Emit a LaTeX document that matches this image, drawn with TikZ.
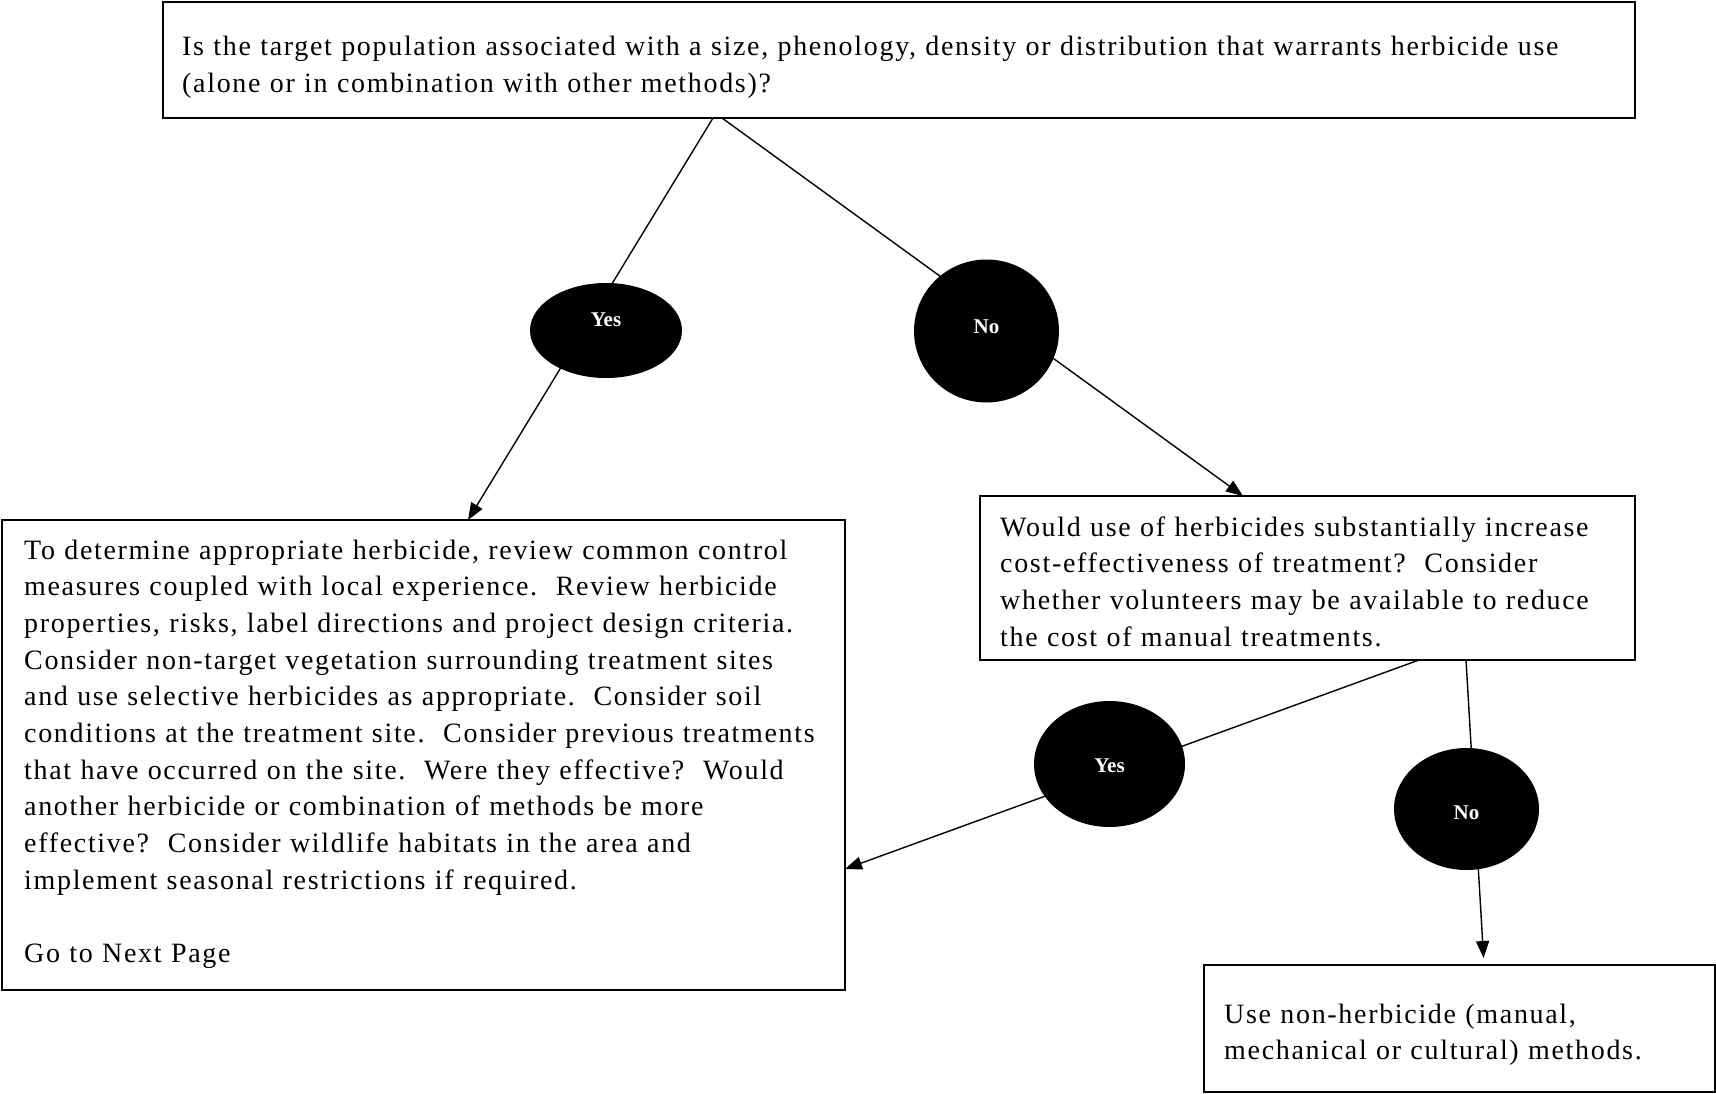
\documentclass[tikz,border=0pt]{standalone}
\usepackage{fontspec}
\setmainfont{Liberation Serif}
% the box texts are set slightly tracked
\newfontfamily\trackedserif{Liberation Serif}[LetterSpace=6]
\usetikzlibrary{arrows.meta,shapes.geometric}
\begin{document}
\begin{tikzpicture}[x=1pt,y=-1pt,
  box/.style={draw, line width=1.5pt, inner sep=0pt, outer sep=0pt, anchor=north west},
  body/.style={anchor=base west, inner sep=0pt, text width=#1, align=left,
    font=\trackedserif\fontsize{28}{36.7}\selectfont},
  answer/.style={ellipse, fill=black, inner sep=0pt, outer sep=0pt},
  answertext/.style={text=white, inner sep=0pt, font=\fontsize{21}{21}\selectfont\bfseries},
  flow/.style={line width=1.4pt, -{Triangle[length=17pt,width=13pt]}},
  ]
\useasboundingbox (0,0) rectangle (1716,1094);

% question and outcome boxes
\node[box, minimum width=1472pt, minimum height=116pt] (top) at (163,2) {};
\node[box, minimum width=843pt, minimum height=470pt] (left) at (2,520) {};
\node[box, minimum width=655pt, minimum height=164pt] (q2) at (980,496) {};
\node[box, minimum width=511pt, minimum height=127pt] (use) at (1204,965) {};

\node[body=1450pt] (topText) at (182,56) {Is the target population associated with a size, phenology, density or distribution that warrants herbicide use\\(alone or in combination with other methods)?};

\node[body=818pt] (leftText) at (24,559) {To determine appropriate herbicide, review common control\\
measures coupled with local experience.\ \ Review herbicide\\
properties, risks, label directions and project design criteria.\\
Consider non-target vegetation surrounding treatment sites\\
and use selective herbicides as appropriate.\ \ Consider soil\\
conditions at the treatment site.\ \ Consider previous treatments\\
that have occurred on the site.\ \ Were they effective?\ \ Would\\
another herbicide or combination of methods be more\\
effective?\ \ Consider wildlife habitats in the area and\\
implement seasonal restrictions if required.\\[36.7pt]
Go to Next Page};

\node[body=632pt] (q2Text) at (1000,536) {Would use of herbicides substantially increase\\
cost-effectiveness of treatment?\ \ Consider\\
whether volunteers may be available to reduce\\
the cost of manual treatments.};

\node[body=490pt] (useText) at (1224,1023) {Use non-herbicide (manual,\\
mechanical or cultural) methods.};

% connectors (the answer ovals are drawn over them)
\draw[flow] ([xshift=550pt]top.south west) -- ([xshift=466pt]left.north west);
\draw[flow] ([xshift=559pt]top.south west) -- ([xshift=263pt]q2.north west);
\draw[flow] ([xshift=439pt]q2.south west) -- ([yshift=-349pt]left.north east);
\draw[flow, shorten >=7pt] ([xshift=486pt]q2.south west) -- ([xshift=280pt]use.north west);

% answer ovals
\node[answer, minimum width=152pt, minimum height=95pt] (yes1) at (606,330.5) {};
\node[answer, minimum width=145pt, minimum height=143pt] (no1) at (986.5,331) {};
\node[answer, minimum width=151pt, minimum height=126pt] (yes2) at (1109.5,764) {};
\node[answer, minimum width=145pt, minimum height=122pt] (no2) at (1466.5,809) {};

\node[answertext] (yes1Label) at ([yshift=10.5pt]yes1.center) {Yes};
\node[answertext] (no1Label) at ([yshift=4pt]no1.center) {No};
\node[answertext] (yes2Label) at ([yshift=-2pt]yes2.center) {Yes};
\node[answertext] (no2Label) at ([yshift=-4pt]no2.center) {No};
\end{tikzpicture}
\end{document}
